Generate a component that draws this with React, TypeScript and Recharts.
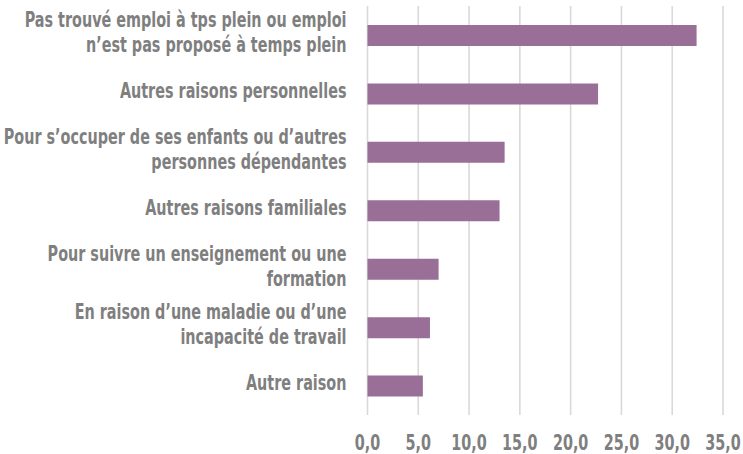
import { BarChart, Bar, XAxis, YAxis, CartesianGrid } from "recharts";

const categories = [
  "Pas trouvé emploi à tps plein ou emploi\nn’est pas proposé à temps plein",
  "Autres raisons personnelles",
  "Pour s’occuper de ses enfants ou d’autres\npersonnes dépendantes",
  "Autres raisons familiales",
  "Pour suivre un enseignement ou une\nformation",
  "En raison d’une maladie ou d’une\nincapacité de travail",
  "Autre raison",
];
const values = [32.4, 22.7, 13.5, 13.0, 7.0, 6.15, 5.45];
const xTicks = [0, 5, 10, 15, 20, 25, 30, 35];

const data = categories.map((name, i) => ({ name, value: values[i] }));

const FONT = '"DejaVu Sans Condensed", "DejaVu Sans", sans-serif';
const GRAY = "#7f7f7f";
const SQUEEZE = 0.78;
const FS = 20.5;

function squeeze(x: number) {
  return `translate(${x} 0) scale(${SQUEEZE} 1) translate(${-x} 0)`;
}

function CategoryTick(props: any) {
  const { x, y, payload } = props;
  const lines = String(payload.value).split("\n");
  const lh = 25;
  // baseline of the first line, block centred a little above the bar
  const first = y - 3 + 7.5 - ((lines.length - 1) * lh) / 2;
  return (
    <text
      x={x}
      y={first}
      textAnchor="end"
      fill={GRAY}
      fontFamily={FONT}
      fontWeight="bold"
      fontSize={FS}
      transform={squeeze(x)}
    >
      {lines.map((l, i) => (
        <tspan key={i} x={x} y={first + i * lh}>
          {l}
        </tspan>
      ))}
    </text>
  );
}

function ValueTick(props: any) {
  const { x, payload } = props;
  const label = Number(payload.value).toFixed(1).replace(".", ",");
  return (
    <text
      x={x}
      y={450}
      textAnchor="middle"
      fill={GRAY}
      fontFamily={FONT}
      fontWeight="bold"
      fontSize={FS}
      transform={squeeze(x)}
    >
      {label}
    </text>
  );
}

export default function App() {
  return (
    <div style={{ position: "fixed", left: 0, top: 0, background: "#fff" }}>
      <BarChart
        width={743}
        height={454}
        data={data}
        layout="vertical"
        margin={{ top: 6, right: 20, left: 0, bottom: 0 }}
      >
        <CartesianGrid horizontal={false} stroke="#d9d9d9" strokeWidth={1.6} />
        <XAxis
          type="number"
          domain={[0, 35]}
          ticks={xTicks}
          axisLine={false}
          tickLine={false}
          height={39}
          tick={<ValueTick />}
          interval={0}
        />
        <YAxis
          type="category"
          dataKey="name"
          width={367.5}
          axisLine={false}
          tickLine={false}
          tickSize={0}
          tickMargin={21}
          tick={<CategoryTick />}
          interval={0}
        />
        <Bar dataKey="value" fill="#996e97" barSize={21} isAnimationActive={false} />
      </BarChart>
    </div>
  );
}
